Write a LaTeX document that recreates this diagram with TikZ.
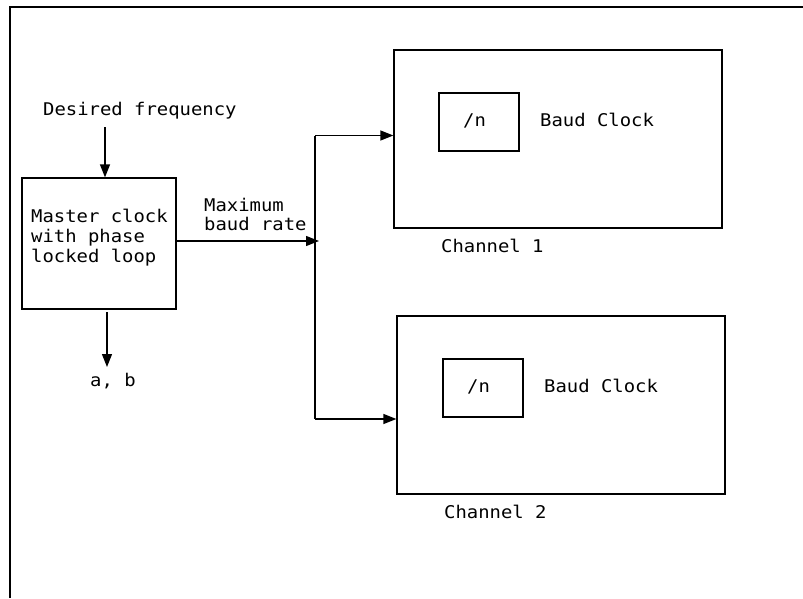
\documentclass[tikz,border=0pt]{standalone}
\usepackage{fontspec}
\newfontfamily\dmono[FakeStretch=1.08]{DejaVu Sans Mono}
\usetikzlibrary{arrows.meta}
\begin{document}
\begin{tikzpicture}[x=1pt,y=-1pt,
  blk/.style={draw,line width=1.2pt,inner sep=0pt},
  lbl/.style={anchor=base west,inner sep=0pt,font=\dmono\fontsize{17.5}{20}\selectfont},
  arr/.style={line width=1.2pt,-{Triangle[length=13pt,width=10pt]}},
  bus/.style={line width=2.5pt},
  frame/.style={line width=2pt}]
\useasboundingbox (0,0) rectangle (803,598);
% frame
\draw[frame] (9.5,598) -- (9.5,6.5) -- (803,6.5);
% blocks
\node[blk,minimum width=154pt,minimum height=131pt] (master) at (99,243.5) {};
\node[blk,minimum width=328pt,minimum height=178pt] (ch1) at (558,139) {};
\node[blk,minimum width=80pt,minimum height=58pt] (div1) at (479,122) {};
\node[blk,minimum width=328pt,minimum height=178pt] (ch2) at (561,405) {};
\node[blk,minimum width=80pt,minimum height=58pt] (div2) at (483,388) {};
% texts
\node[lbl] (tdf) at (43,115) {Desired frequency};
\node[lbl] (tm1) at (31,222.5) {Master clock};
\node[lbl] (tm2) at (31,242.5) {with phase};
\node[lbl] (tm3) at (31,262.5) {locked loop};
\node[lbl] (tmax) at (204,211.5) {Maximum};
\node[lbl] (tbr) at (204,230.5) {baud rate};
\node[lbl] (tab) at (90,386.5) {a, b};
\node[lbl] (tn1) at (463,126.5) {/n};
\node[lbl] (tbc1) at (540,126.5) {Baud Clock};
\node[lbl] (tc1) at (441,252.5) {Channel 1};
\node[lbl] (tn2) at (467,392.5) {/n};
\node[lbl] (tbc2) at (544,392.5) {Baud Clock};
\node[lbl] (tc2) at (444,518.5) {Channel 2};
% connectors
\coordinate (df) at (105,127);
\draw[arr] (df) -- (df |- master.north);
\coordinate (ab1) at (107,312);
\coordinate (ab2) at (107,367);
\draw[arr] (ab1) -- (ab2);
\coordinate (bt) at (315,135.5);
\coordinate (bm) at (319,241);
\coordinate (bb) at (315,419);
\draw[bus] (bt) -- (bb);
\draw[arr] (master.east |- bm) -- (bm);
\draw[arr] (bt) -- (bt -| ch1.west);
\draw[arr] (bb) -- (bb -| ch2.west);
\end{tikzpicture}
\end{document}
